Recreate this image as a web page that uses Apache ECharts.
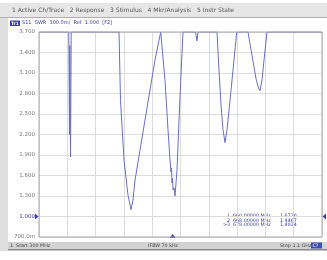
<!DOCTYPE html>
<html>
<head>
<meta charset="utf-8">
<script src="https://cdn.jsdelivr.net/npm/echarts@6/dist/echarts.min.js"></script>
<style>
  html, body { margin: 0; padding: 0; background: #fff; }
  #chart { width: 327px; height: 260px; }
</style>
</head>
<body>
<div id="chart"></div>
<script>
// sweep settings (MHz)
const START_MHZ = 300;
const STOP_MHZ = 1100;
const X_STEP = 80;
// SWR scale: 300.0m/div, 10 divisions
const Y_MIN = 0.7;
const Y_MAX = 3.7;
const Y_STEP = 0.3;
const yTickLabels = ['700.0m', '1.000', '1.300', '1.600', '1.900', '2.200',
  '2.500', '2.800', '3.100', '3.400', '3.700'];

// trace (values above 3.7 are shown pinned at the top)
const freqMHz = [300, 384.2, 386.2, 387.1, 389.1, 391.0,
  526.2, 530.4, 540.3, 551.6, 560.1, 565.7, 571.4, 599.6, 627.9, 644.0,
  646.9, 656.2, 664.7, 670.3, 673.2, 674.6, 676.0, 677.4, 678.8, 681.6, 684.5, 690.1, 695.8, 701.4, 707.1,
  742.4, 746.7, 749.5,
  803.2, 808.8, 814.5, 820.2, 825.8, 831.5, 840.0, 848.4, 858.9,
  890.8, 902.1, 913.4, 920.5, 924.8, 930.4, 936.1, 944.6,
  1100];
const swr = [3.7, 3.7, 2.2, 3.5, 1.87, 3.7,
  3.7, 2.70, 1.83, 1.31, 1.10, 1.24, 1.53, 2.41, 3.29, 3.7,
  3.7, 2.99, 2.27, 1.83, 1.65, 1.71, 1.49, 1.56, 1.39, 1.42, 1.30, 1.68, 2.41, 3.07, 3.7,
  3.7, 3.57, 3.7,
  3.7, 3.14, 2.63, 2.27, 2.08, 2.27, 2.70, 3.14, 3.7,
  3.7, 3.36, 3.02, 2.88, 2.84, 3.0, 3.29, 3.7,
  3.7];

// marker readout
const markerIds = ['1', '2', '>3'];
const markerFreqs = ['660.00000', '668.00000', '678.00000'];
const markerValues = ['1.6736', '1.4467', '1.4834'];

const menuText = '1 Active Ch/Trace   2 Response   3 Stimulus   4 Mkr/Analysis   5 Instr State';
const traceTitle = 'S11  SWR  300.0m/  Ref  1.000  [F2]';

const FONT = 'DejaVu Sans';
const BLUE = '#3a3ea8';

const chart = echarts.init(document.getElementById('chart'));

const markerText = [];
markerIds.forEach((id, i) => {
  const y = 213 + i * 4.8;
  markerText.push(
    { type: 'text', right: 327 - 230, top: y, style: { text: id, font: '4.8px ' + FONT, fill: BLUE, textAlign: 'right' } },
    { type: 'text', left: 233, top: y, style: { text: markerFreqs[i] + ' MHz', font: '4.8px ' + FONT, fill: BLUE } },
    { type: 'text', left: 280, top: y, style: { text: markerValues[i], font: '4.8px ' + FONT, fill: BLUE } }
  );
});

chart.setOption({
  animation: false,
  backgroundColor: '#fff',
  grid: { left: 39, right: 5, top: 32, bottom: 23 },
  xAxis: {
    type: 'value',
    min: START_MHZ,
    max: STOP_MHZ,
    interval: X_STEP,
    axisLine: { show: false },
    axisTick: { show: false },
    axisLabel: { show: false },
    splitLine: { lineStyle: { color: '#dcdcdc', width: 1 } }
  },
  yAxis: {
    type: 'value',
    min: Y_MIN,
    max: Y_MAX,
    interval: Y_STEP,
    axisLine: { show: false },
    axisTick: { show: false },
    axisLabel: {
      margin: 4,
      fontFamily: FONT,
      fontSize: 5.5,
      color: (v) => Math.round((v - Y_MIN) / Y_STEP) === 1 ? BLUE : '#777',
      formatter: (v) => yTickLabels[Math.round((v - Y_MIN) / Y_STEP)]
    },
    splitLine: { lineStyle: { color: '#dcdcdc', width: 1 } }
  },
  series: [{
    type: 'line',
    data: freqMHz.map((f, i) => [f, swr[i]]),
    showSymbol: false,
    lineStyle: { color: '#6a6fc2', width: 1 },
    markPoint: {
      symbol: 'triangle',
      symbolSize: [6, 4],
      itemStyle: { color: BLUE },
      label: { show: false },
      data: [{ coord: [678, Y_MIN], symbolOffset: [0, -1] }]
    }
  }],
  graphic: [
    // menu bar
    { type: 'rect', shape: { x: 0, y: 3, width: 327, height: 14 }, style: { fill: '#e6e6e6' }, z: -1 },
    { type: 'rect', shape: { x: 0, y: 17, width: 327, height: 1 }, style: { fill: '#b0b0b0' }, z: -1 },
    { type: 'text', left: 12, top: 7, style: { text: menuText, font: '6px ' + FONT, fill: '#555' } },
    // left strip
    { type: 'rect', shape: { x: 0, y: 18, width: 8, height: 233 }, style: { fill: '#dedede' }, z: -1 },
    // plot frame
    { type: 'rect', shape: { x: 39, y: 32, width: 283, height: 205 }, style: { fill: 'none', stroke: '#a8a8a8', lineWidth: 1 }, z: 10 },
    // trace title
    { type: 'rect', shape: { x: 10, y: 20.5, width: 10, height: 5.5 }, style: { fill: BLUE } },
    { type: 'text', left: 11, top: 21, style: { text: 'Tr1', font: 'bold 4.5px ' + FONT, fill: '#fff' } },
    { type: 'text', left: 22, top: 20.5, style: { text: traceTitle, font: '5px ' + FONT, fill: BLUE } },
    // reference level arrows
    { type: 'polygon', shape: { points: [[35, 213.5], [38.5, 216.5], [35, 219.5]] }, style: { fill: BLUE } },
    { type: 'polygon', shape: { points: [[326, 213.5], [322.5, 216.5], [326, 219.5]] }, style: { fill: BLUE } },
    // status bar
    { type: 'rect', shape: { x: 8, y: 242, width: 319, height: 7 }, style: { fill: '#d2d2d2' }, z: -1 },
    { type: 'rect', shape: { x: 8, y: 249, width: 319, height: 1.5 }, style: { fill: '#8a8a8a' }, z: -1 },
    { type: 'text', left: 10, top: 243, style: { text: '1  Start 300 MHz', font: '4.8px ' + FONT, fill: '#444' } },
    { type: 'text', left: 148, top: 243, style: { text: 'IFBW 70 kHz', font: '4.8px ' + FONT, fill: '#444' } },
    { type: 'text', left: 280, top: 243, style: { text: 'Stop 1.1 GHz', font: '4.8px ' + FONT, fill: '#444' } },
    { type: 'rect', shape: { x: 311, y: 242.5, width: 11, height: 6 }, style: { fill: '#3d4fb0' } },
    { type: 'text', left: 312.5, top: 243, style: { text: 'C?', font: '4.8px ' + FONT, fill: '#fff' } }
  ].concat(markerText)
});
</script>
</body>
</html>
